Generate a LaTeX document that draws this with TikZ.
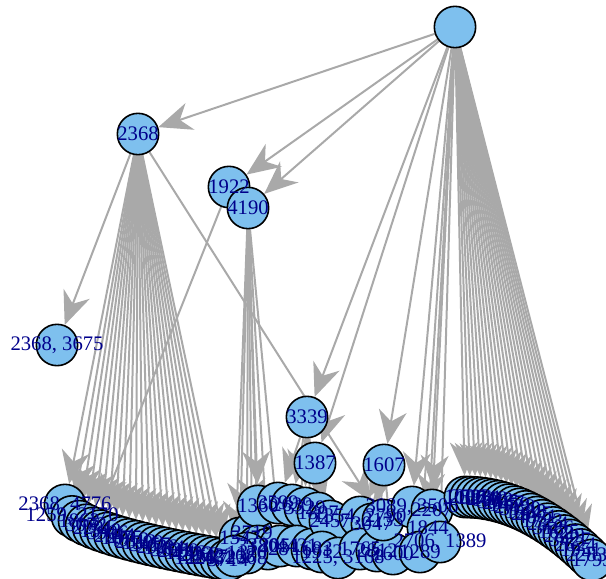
\documentclass[tikz,border=0pt]{standalone}
\usepackage{fontspec}
\setmainfont{Liberation Serif}
\usetikzlibrary{arrows.meta}
\definecolor{VtxBlue}{RGB}{126,192,238}
\definecolor{LabNavy}{RGB}{0,0,139}
\definecolor{EdgeGray}{RGB}{169,169,169}
\pgfdeclarelayer{edges}
\pgfdeclarelayer{labels}
\pgfsetlayers{edges,main,labels}

\begin{document}
\begin{tikzpicture}[x=0.75pt, y=-0.75pt,
	vtx/.style={circle, draw=black, line width=1.2pt, fill=VtxBlue, minimum size=31pt, inner sep=0pt},
	lab/.style={text=LabNavy, font=\fontsize{15.5}{15.5}\selectfont, inner sep=0pt},
	edg/.style={draw=EdgeGray, line width=1.5pt, -{Stealth[length=25pt, width=21pt, inset=8pt]}}]
	\useasboundingbox (0,0) rectangle (606,578);
	% inner vertices
	\node[vtx] (root) at (455,27) {};
	\node[vtx] (v2368) at (138,134) {};
	\node[vtx] (v1922) at (229,187) {};
	\node[vtx] (v4190) at (248,208) {};
	\node[vtx] (v3675) at (57,345) {};
	\node[vtx] (v3339) at (307,417) {};
	\node[vtx] (v1387) at (315,463) {};
	\node[vtx] (v1607) at (384,465) {};
	\begin{pgfonlayer}{labels}
		\node[lab] (l2368) at (v2368) {2368};
		\node[lab] (l1922) at (v1922) {1922};
		\node[lab] (l4190) at (v4190) {4190};
		\node[lab] (l3675) at (v3675) {2368, 3675};
		\node[lab] (l3339) at (v3339) {3339};
		\node[lab] (l1387) at (v1387) {1387};
		\node[lab] (l1607) at (v1607) {1607};
	\end{pgfonlayer}
	% leaves of 2368, bottom left
	\foreach \lbl [count=\i] in {{2368, 4776}, {1259, 2170}, 1863, 3072, 2291, 1548, 3906, 2744,
		1675, 4012, 2813, 1390, 3457, 2026, 1784, 3621, 2589, 1146, 4333, 2962, 1517, 2481, {1226, 2368}, 3714} {
		\pgfmathsetmacro\t{(\i-1)/23}
		\node[vtx] (a\i) at ({65+163*\t}, {505+55*sqrt(\t)}) {};
		\begin{pgfonlayer}{labels}\node[lab] (al\i) at (a\i) {\lbl};\end{pgfonlayer}
		\begin{pgfonlayer}{edges}\draw[edg] (v2368) -- (a\i);\end{pgfonlayer}
	}
	% leaves in the middle
	\foreach \x/\y/\src/\lbl [count=\i] in {240/538/v4190/1547, 252/533/v4190/2719, 258/506/v4190/1360,
		258/546/v4190/3380, 268/549/v4190/1428, 280/546/v4190/2051, 247/553/v4190/1170, 235/556/v4190/2268,
		278/503/v3339/3599, 292/505/v3339/2639, 305/508/v3339/3329, 318/513/v3339/1897,
		297/546/v3339/4431, 312/549/v3339/1683, 330/521/v1387/2457, 322/552/v1387/1912,
		338/558/v1387/{1225, 3168}, 360/517/v1607/{1354, 2790}, 372/524/v1607/3047, 360/549/v1607/1765,
		377/551/v1607/2812, 393/554/v1607/1600, 383/520/v2368/2133, 412/507/root/{3089, 3506},
		432/510/root/2207, 428/528/root/1844, 420/552/root/1289, 440/542/root/{2706, 1389}} {
		\node[vtx] (b\i) at (\x,\y) {};
		\begin{pgfonlayer}{labels}\node[lab] (bl\i) at (b\i) {\lbl};\end{pgfonlayer}
		\begin{pgfonlayer}{edges}\draw[edg] (\src) -- (b\i);\end{pgfonlayer}
	}
	% leaves of the root, bottom right
	\foreach \lbl [count=\i] in {1006, 2593, 1874, 3261, 2418, 1932, 3805, 2167, 1459, 2738, 3120, 1588,
		2645, 4071, 1723, 2354, 3186, 1625, 2849, 3427, 2624, 1951, 2283, 1793} {
		\pgfmathsetmacro\t{(\i-1)/23}
		\node[vtx] (c\i) at ({465+127*\t}, {497+63*\t*\t}) {};
		\begin{pgfonlayer}{labels}\node[lab] (cl\i) at (c\i) {\lbl};\end{pgfonlayer}
		\begin{pgfonlayer}{edges}\draw[edg] (root) -- (c\i);\end{pgfonlayer}
	}
	% edges between inner vertices
	\begin{pgfonlayer}{edges}
		\draw[edg] (root) -- (v2368);
		\draw[edg] (root) -- (v1922);
		\draw[edg] (root) -- (v4190);
		\draw[edg] (root) -- (v3339);
		\draw[edg] (root) -- (v1387);
		\draw[edg] (root) -- (v1607);
		\draw[edg] (v2368) -- (v3675);
		\draw[edg] (v1922) -- (a5);
	\end{pgfonlayer}
\end{tikzpicture}
\end{document}
